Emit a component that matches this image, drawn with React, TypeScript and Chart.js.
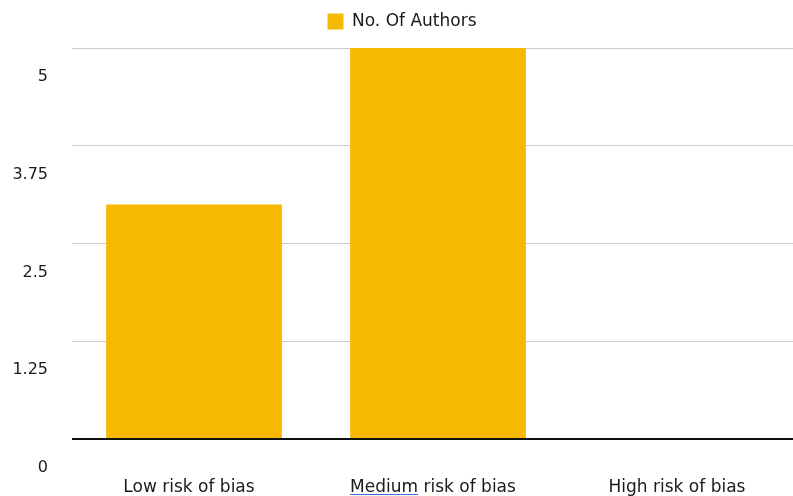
import React, { useEffect, useRef } from "react";
import { Chart, registerables } from "chart.js";

Chart.register(...registerables);

const categories = ["Low risk of bias", "Medium risk of bias", "High risk of bias"];
const seriesName = "No. Of Authors";
const authorCounts = [3, 5, 0];
const yMin = 0;
const yMax = 5;
const yStep = 1.25;

const FONT = "'DejaVu Sans', Verdana, sans-serif";
const FONT_SIZE = 17;
const BAR_COLOR = "#F6B800";
const TEXT_COLOR = "#1a1a1a";

const legendSpacer = {
  id: "legendSpacer",
  beforeInit(chart: any) {
    const legend = chart.legend;
    if (!legend) return;
    const orig = legend.fit;
    legend.fit = function () {
      orig.call(this);
      this.height += 8;
    };
  },
};

const underlinePlugin = {
  id: "underlineMedium",
  afterDraw(chart: any) {
    const xs = chart.scales.x;
    const ctx = chart.ctx;
    const label = categories[1];
    const word = label.split(" ")[0];
    ctx.save();
    ctx.font = `${FONT_SIZE}px ${FONT}`;
    const full = ctx.measureText(label).width;
    const w = ctx.measureText(word).width;
    const cx = xs.getPixelForTick(1) - 5;
    const x0 = cx - full / 2;
    const y = chart.chartArea.bottom + 55;
    ctx.strokeStyle = "#3b6fd8";
    ctx.lineWidth = 1;
    ctx.beginPath();
    ctx.moveTo(x0, y + 0.5);
    ctx.lineTo(x0 + w, y + 0.5);
    ctx.stroke();
    ctx.restore();
  },
};

export default function App() {
  const ref = useRef<HTMLCanvasElement | null>(null);
  useEffect(() => {
    if (!ref.current) return;
    const chart = new Chart(ref.current, {
      type: "bar",
      data: {
        labels: categories,
        datasets: [
          {
            label: seriesName,
            data: authorCounts,
            backgroundColor: BAR_COLOR,
            borderWidth: 0,
          },
        ],
      },
      plugins: [legendSpacer, underlinePlugin],
      options: {
        responsive: false,
        animation: false,
        layout: { padding: { left: 0, top: 3, right: 0, bottom: 0 } },
        plugins: {
          tooltip: { enabled: false },
          legend: {
            position: "top",
            labels: {
              boxWidth: 16,
              boxHeight: 16,
              padding: 10,
              color: TEXT_COLOR,
              font: { family: FONT, size: FONT_SIZE },
            },
          },
        },
        scales: {
          x: {
            grid: { display: false, drawTicks: false },
            border: { display: false },
            afterFit(scale: any) {
              scale.height = 57;
            },
            ticks: {
              color: TEXT_COLOR,
              font: { family: FONT, size: FONT_SIZE },
              padding: 38,
              labelOffset: -5,
              maxRotation: 0,
            },
          },
          y: {
            min: yMin,
            max: yMax,
            border: { display: false },
            afterFit(scale: any) {
              scale.width = 72;
            },
            grid: {
              drawTicks: false,
              color: (c: any) => (c.tick && c.tick.value === 0 ? "#111" : "#cccccc"),
              lineWidth: (c: any) => (c.tick && c.tick.value === 0 ? 2 : 1),
            },
            ticks: {
              stepSize: yStep,
              color: TEXT_COLOR,
              font: { family: FONT, size: 16 },
              padding: 24,
              labelOffset: 29,
              callback: (v: any) => String(Number(v)),
            },
          },
        },
      },
    });
    return () => chart.destroy();
  }, []);
  return (
    <div style={{ position: "fixed", left: 0, top: 0, width: 793, height: 496, overflow: "hidden", background: "#fff" }}>
      <canvas ref={ref} width={804} height={496} style={{ width: 804, height: 496, display: "block" }} />
    </div>
  );
}
